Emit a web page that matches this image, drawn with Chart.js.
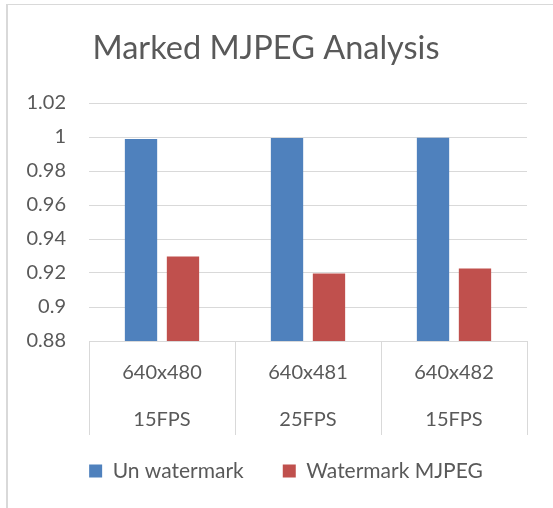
<!DOCTYPE html>
<html>
<head>
<meta charset="utf-8">
<script src="https://cdn.jsdelivr.net/npm/chart.js@4/dist/chart.umd.min.js"></script>
<style>
    html, body { margin: 0; padding: 0; background: #fff; }
    #wrap { position: relative; width: 553px; height: 508px; }
    #frame {
        position: absolute; left: 6px; top: 4px; right: 0; bottom: 0;
        border-top: 1px solid #d9d9d9; border-left: 2px solid #d9d9d9;
        pointer-events: none;
    }
</style>
</head>
<body>
<div id="wrap">
    <canvas id="barChart" width="553" height="508"></canvas>
    <div id="frame"></div>
</div>
<script>
// Categories (two-level labels: resolution / frame rate)
const resolutions = ['640x480', '640x481', '640x482'];
const frameRates = ['15FPS', '25FPS', '15FPS'];

// Series values
const unWatermark = [0.9988, 0.9994, 0.9995];
const watermarkMJPEG = [0.9297, 0.9197, 0.9226];

// Value axis
const yMin = 0.88;
const yMax = 1.02;
const yStep = 0.02;

const textColor = '#595959';
const gridColor = '#d9d9d9';
const fontFamily = 'Lato, "Liberation Sans", sans-serif';

const labels = resolutions.map((r, i) => [r, frameRates[i]]);

// nudge the legend row right and up, like the original
const legendShift = {
    id: 'legendShift',
    afterLayout(chart) {
        const lg = chart.legend;
        lg.left += 20;
        lg.right += 20;
        lg.top -= 13.5;
        lg.bottom -= 13.5;
    }
};

const barChart = new Chart(document.getElementById('barChart'), {
    type: 'bar',
    data: {
        labels: labels,
        datasets: [{
            label: 'Un watermark',
            data: unWatermark,
            backgroundColor: '#4f81bd',
            categoryPercentage: 0.575,
            barPercentage: 0.77,
        }, {
            label: 'Watermark MJPEG',
            data: watermarkMJPEG,
            backgroundColor: '#c0504d',
            categoryPercentage: 0.575,
            barPercentage: 0.77,
        }]
    },
    plugins: [legendShift],
    options: {
        responsive: false,
        animation: false,
        layout: {
            padding: { left: 5, right: 26, top: 0, bottom: 3 }
        },
        plugins: {
            title: {
                display: true,
                text: 'Marked MJPEG Analysis',
                color: textColor,
                font: { family: fontFamily, size: 32.5, weight: 'normal' },
                padding: { top: 29, bottom: 35 }
            },
            legend: {
                position: 'bottom',
                labels: {
                    color: textColor,
                    font: { family: fontFamily, size: 21 },
                    boxWidth: 13,
                    boxHeight: 13,
                    padding: 39
                }
            },
            tooltip: { enabled: false }
        },
        scales: {
            x: {
                grid: {
                    offset: true,
                    drawOnChartArea: false,
                    drawTicks: true,
                    tickLength: 94,
                    color: gridColor
                },
                border: { color: gridColor },
                ticks: {
                    color: textColor,
                    font: { family: fontFamily, size: 20, lineHeight: 2.35 },
                    padding: -86,
                    maxRotation: 0
                },
                afterFit: (scale) => { scale.height = 94; }
            },
            y: {
                min: yMin,
                max: yMax,
                grid: {
                    color: gridColor,
                    drawTicks: false
                },
                border: { display: false },
                ticks: {
                    stepSize: yStep,
                    color: textColor,
                    font: { family: fontFamily, size: 20 },
                    padding: 23,
                    callback: (value) => String(Number(value.toFixed(2)))
                },
                afterFit: (scale) => { scale.width = 84; }
            }
        }
    }
});
</script>
</body>
</html>
